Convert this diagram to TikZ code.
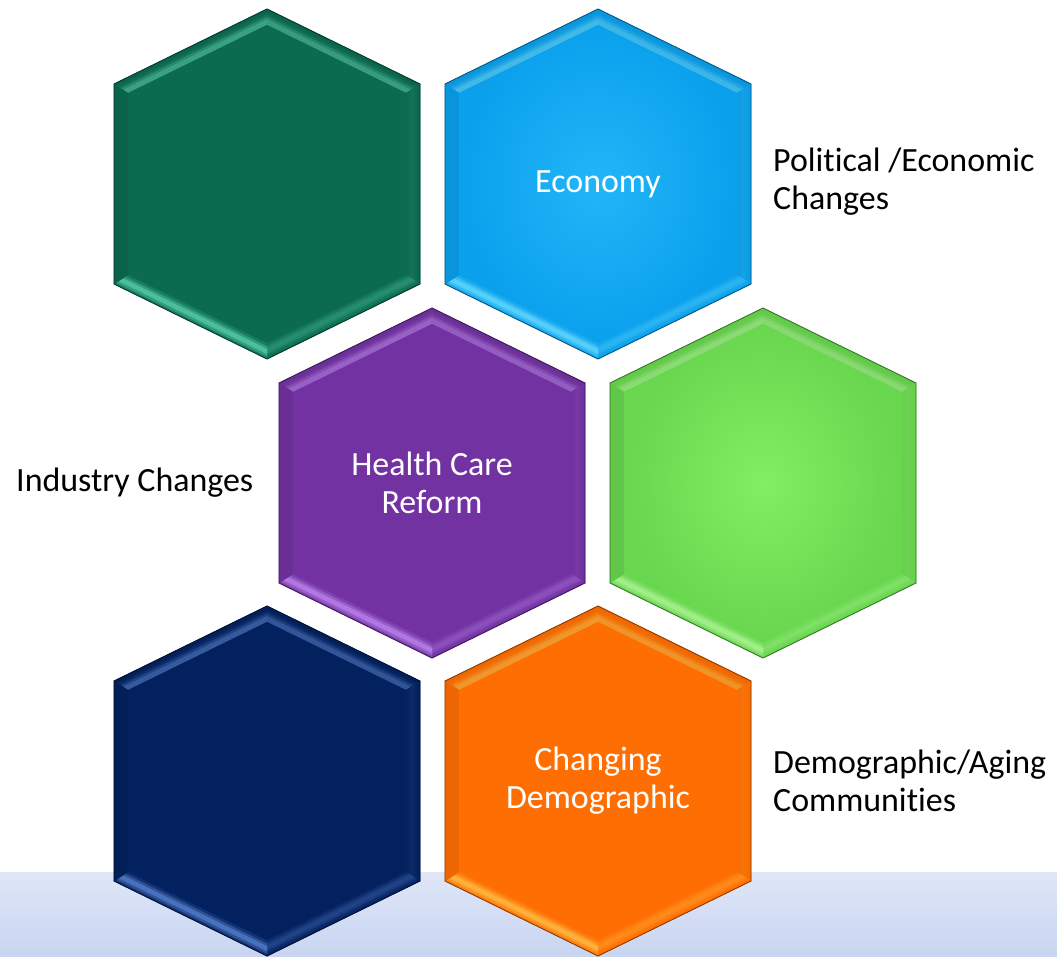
\documentclass[tikz,border=0pt]{standalone}
\usepackage{fontspec}
\setmainfont{Carlito}[Ligatures=NoCommon, Contextuals=NoAlternate]

\definecolor{tealbase}{HTML}{0B6B51}
\definecolor{teallight}{HTML}{5FD6AE}
\definecolor{skybase}{HTML}{0AA0EC}
\definecolor{skylight}{HTML}{6ADCFF}
\definecolor{skymid}{HTML}{22B6F8}
\definecolor{plumbase}{HTML}{7232A2}
\definecolor{plumlight}{HTML}{C08AF0}
\definecolor{limebase}{HTML}{68D64E}
\definecolor{limelight}{HTML}{B0F598}
\definecolor{limemid}{HTML}{82EE62}
\definecolor{navybase}{HTML}{03215F}
\definecolor{navylight}{HTML}{5C88D6}
\definecolor{orangebase}{HTML}{FF6E02}
\definecolor{orangelight}{HTML}{FFC24A}
\definecolor{bandtop}{HTML}{DFE6F8}
\definecolor{bandbot}{HTML}{C9D5F1}

\tikzset{
  hexlabel/.style={text=white, align=center, font=\fontsize{19.3}{21.5}\selectfont},
  sidelabel/.style={anchor=west, align=left, font=\fontsize{19.3}{21.5}\selectfont},
}

% bevelled hexagon: #1 centre, #2 base, #3 highlight, #4 centre glow
\newcommand\hexcell[4]{%
  \begin{scope}[shift={#1}]
    \fill[#2] (0,175) -- (153,100) -- (153,-100) -- (0,-175) -- (-153,-100) -- (-153,100) -- cycle;
    % bevel bands edge by edge: x1/y1/x2/y2/light/peak/dark
    \foreach \xa/\ya/\xb/\yb/\amp/\pk/\dk in {-153/100/0/175/65/4.5/6, 0/175/153/100/60/4.5/6,
        153/100/153/-100/10/3/3, 153/-100/0/-175/35/3/0, 0/-175/-153/-100/85/2.5/0, -153/-100/-153/100/0/3/7}
      \foreach \k in {0,...,5} {
        \pgfmathsetmacro\sa{1-0.015*\k}
        \pgfmathsetmacro\sb{1-0.015*(\k+1)}
        \pgfmathtruncatemacro\lm{\amp*exp(-((\k-\pk)^2)/4)}
        \pgfmathtruncatemacro\keep{100-\dk}
        \filldraw[#3!\lm!#2!\keep!black, line width=0.2pt]
          ({\sa*\xa},{\sa*\ya}) -- ({\sa*\xb},{\sa*\yb}) -- ({\sb*\xb},{\sb*\yb}) -- ({\sb*\xa},{\sb*\ya}) -- cycle;
      }
    \shade[inner color=#4, outer color=#2] (0,159) -- (139,91) -- (139,-91) -- (0,-159) -- (-139,-91) -- (-139,91) -- cycle;
    \draw[#2!55!black, line width=0.5pt] (0,175) -- (153,100) -- (153,-100) -- (0,-175) -- (-153,-100) -- (-153,100) -- cycle;
  \end{scope}}

\begin{document}
\begin{tikzpicture}[x=0.2mm, y=0.2mm]
  \useasboundingbox (0,0) rectangle (1057,956);
  \shade[top color=bandtop, bottom color=bandbot] (0,0) rectangle (1057,84);

  % two rows on the outside, one row shifted in the middle
  \hexcell{(267,772)}{tealbase}{teallight}{tealbase}
  \hexcell{(598,772)}{skybase}{skylight}{skymid}
  \hexcell{(432,473)}{plumbase}{plumlight}{plumbase}
  \hexcell{(763,473)}{limebase}{limelight}{limemid}
  \hexcell{(267,175)}{navybase}{navylight}{navybase}
  \hexcell{(598,175)}{orangebase}{orangelight}{orangebase}

  \node[hexlabel] (econ) at (598,772) {Economy};
  \node[hexlabel] (reform) at (432,473) {Health Care\\Reform};
  \node[hexlabel] (demog) at (598,175) {Changing\\Demographic};

  \node[sidelabel] (polecon) at (767,774) {Political /Economic\\Changes};
  \node[sidelabel] (industry) at (10,473) {Industry Changes};
  \node[sidelabel] (aging) at (767,175) {Demographic/Aging\\Communities};
\end{tikzpicture}
\end{document}
